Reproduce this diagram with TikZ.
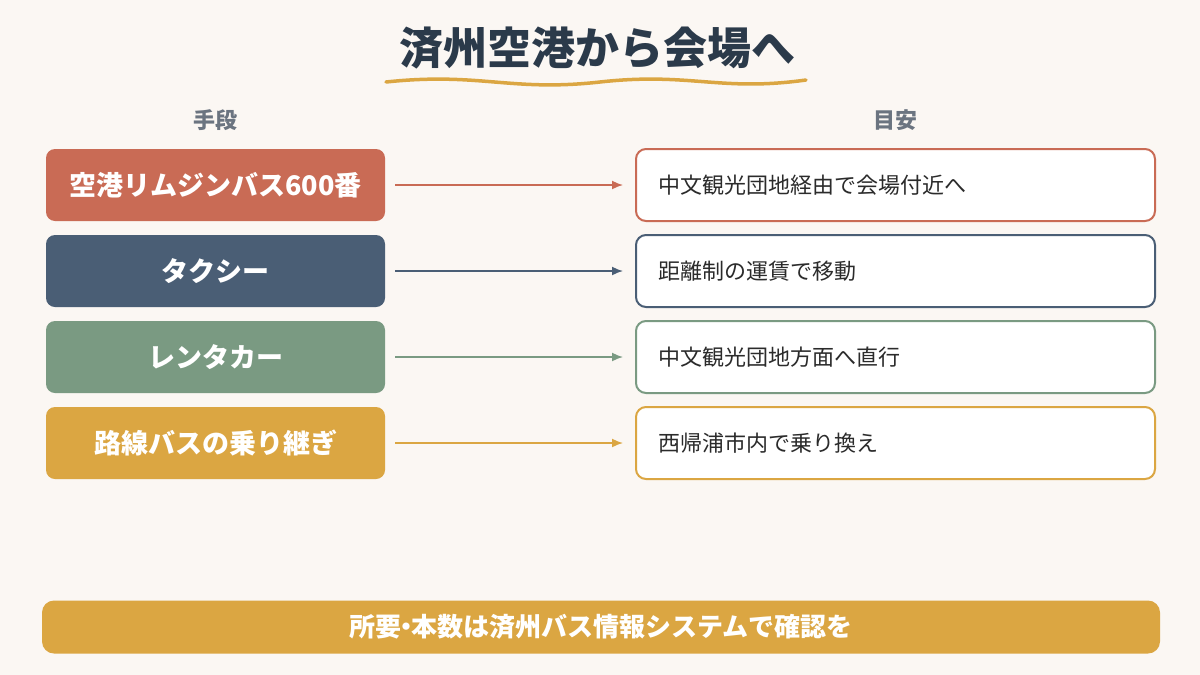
\documentclass[tikz,border=0pt]{standalone}
\usepackage{fontspec}
\setmainfont{Noto Sans CJK JP}
\usetikzlibrary{arrows.meta}
\definecolor{bg}{HTML}{FBF7F3}
\definecolor{cred}{HTML}{C96B55}
\definecolor{cnavy}{HTML}{4A5E75}
\definecolor{cgreen}{HTML}{7A9A82}
\definecolor{cgold}{HTML}{DBA642}
\definecolor{ctitle}{HTML}{2B3A4A}
\definecolor{chead}{HTML}{6B7480}
\definecolor{ctext}{HTML}{2B2B2B}
\begin{document}
\begin{tikzpicture}[x=1pt,y=-1pt,
  lbox/.style={rounded corners=9pt,minimum width=339pt,minimum height=72pt,text=white,font=\fontsize{27}{32}\selectfont\bfseries,inner sep=0pt},
  rbox/.style={draw,line width=2pt,fill=white,rounded corners=10pt,minimum width=519pt,minimum height=72pt,text=ctext,font=\fontsize{22}{26}\selectfont,inner sep=0pt,text width=475pt,align=left},
  arr/.style={line width=1.6pt,-{Latex[length=11pt,width=9pt]}}]
\fill[bg] (0,0) rectangle (1200,675);
\useasboundingbox (0,0) rectangle (1200,675);
\node[text=ctitle,font=\fontsize{44}{50}\selectfont\bfseries] (title) at (597,48) {済州空港から会場へ};
\draw[cgold,line width=3.5pt,line cap=round] (386,82) .. controls (480,72) and (510,92) .. (600,82) .. controls (690,72) and (720,92) .. (806,80);
\node[text=chead,font=\fontsize{22}{26}\selectfont\bfseries] (h1) at (215,120) {手段};
\node[text=chead,font=\fontsize{22}{26}\selectfont\bfseries] (h2) at (895,120) {目安};
\foreach \y/\c/\a/\b/\n in {185/cred/空港リムジンバス600番/中文観光団地経由で会場付近へ/1,271/cnavy/タクシー/距離制の運賃で移動/2,357/cgreen/レンタカー/中文観光団地方面へ直行/3,443/cgold/路線バスの乗り継ぎ/西帰浦市内で乗り換え/4}{
  \node[lbox,fill=\c] (l\n) at (215.5,\y) {\a};
  \node[rbox,draw=\c] (r\n) at (895.5,\y) {\b};
  \draw[arr,\c] ([xshift=10pt]l\n.east) -- ([xshift=-12pt]r\n.west);
}
\node[fill=cgold,rounded corners=12pt,minimum width=1118pt,minimum height=53pt,inner sep=0pt,text=white,font=\fontsize{26}{30}\selectfont\bfseries] (note) at (601,627) {所要\hspace{-0.3em}・\hspace{-0.3em}本数は済州バス情報システムで確認を};
\end{tikzpicture}
\end{document}
